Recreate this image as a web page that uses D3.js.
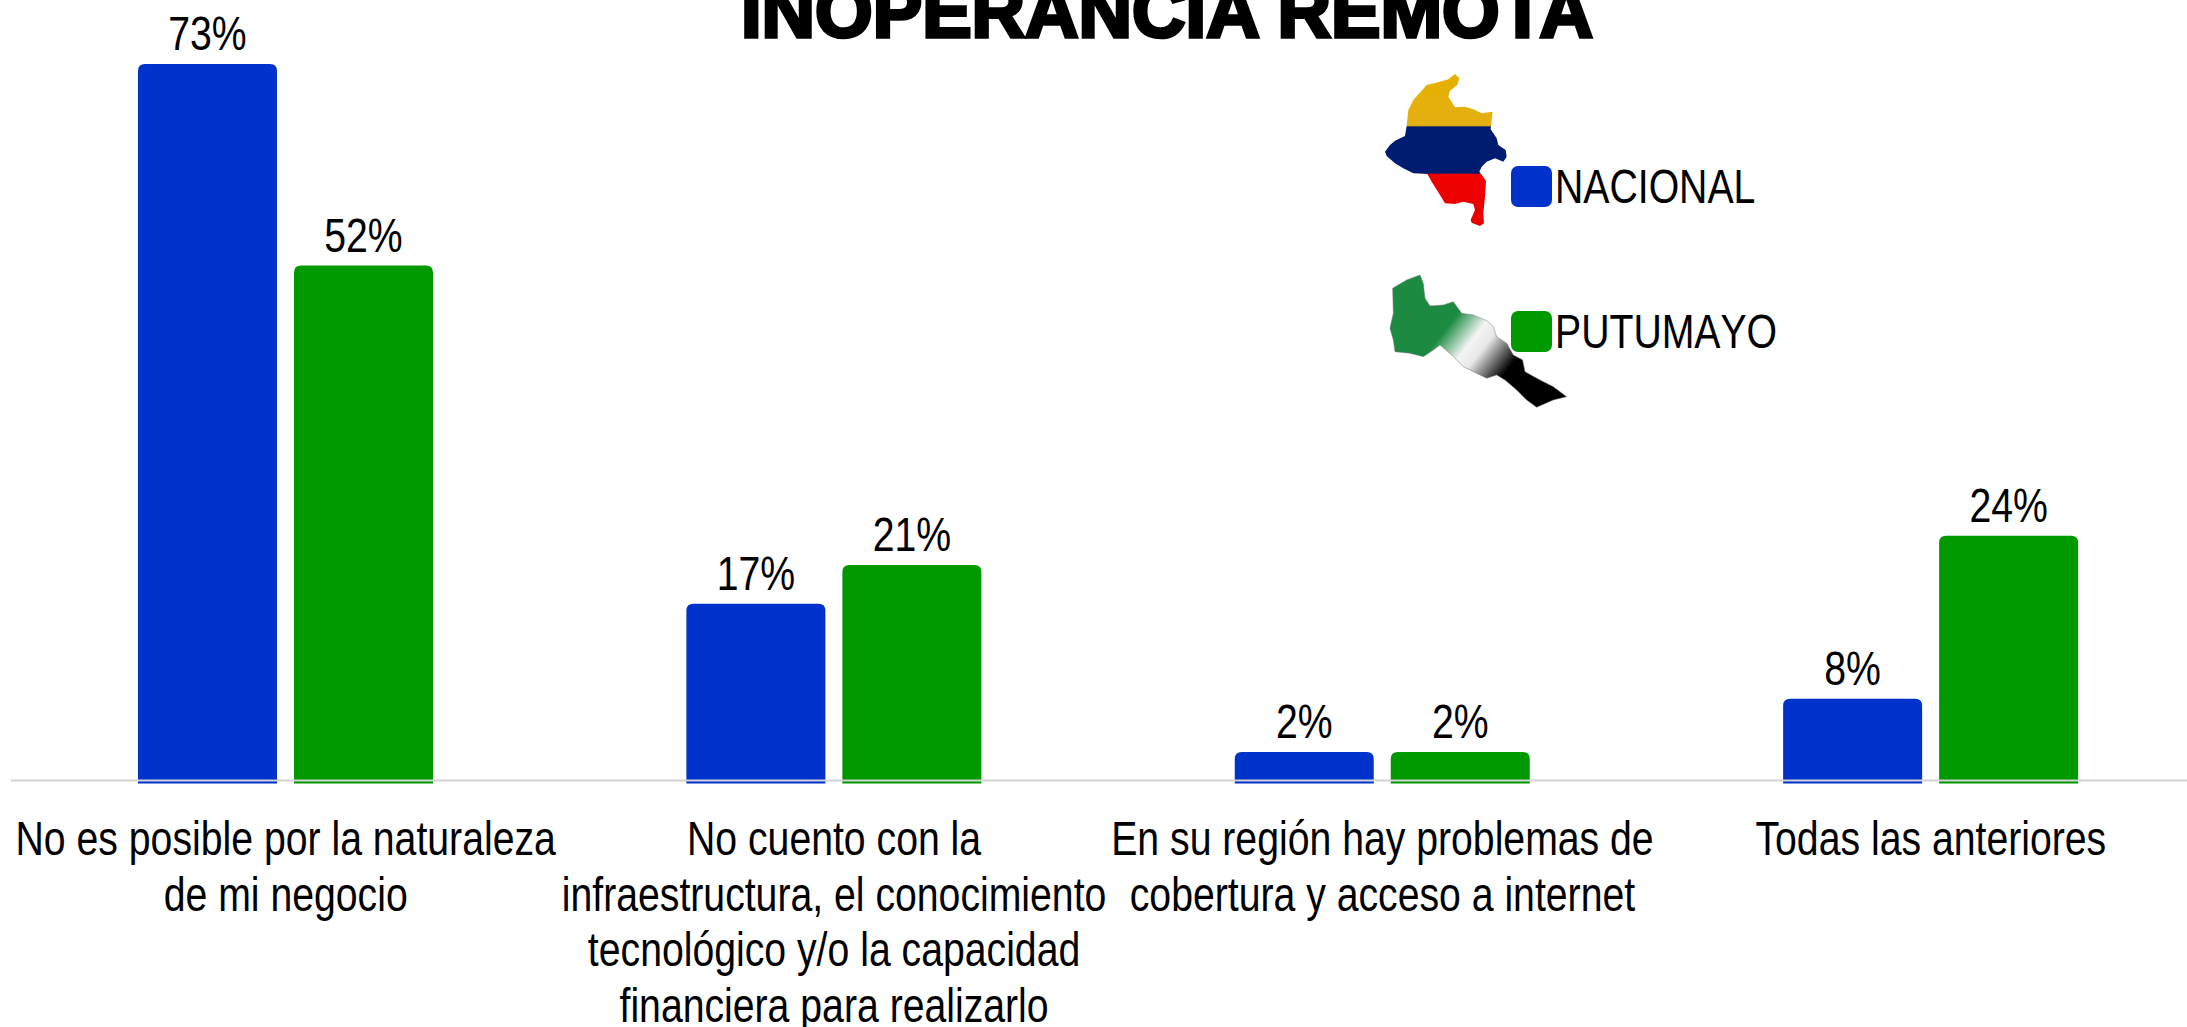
<!DOCTYPE html>
<html><head><meta charset="utf-8">
<script src="https://d3js.org/d3.v7.min.js"></script>
<style>html,body{margin:0;padding:0;background:#fff;overflow:hidden}svg{display:block}text{font-family:"Liberation Sans",Arial,sans-serif;fill:#000}</style>
</head><body><svg id="c" width="2187" height="1027"></svg>
<script>
const titleText = "INOPERANCIA REMOTA";
const categories = [
  ["No es posible por la naturaleza","de mi negocio"],
  ["No cuento con la","infraestructura, el conocimiento","tecnológico y/o la capacidad","financiera para realizarlo"],
  ["En su región hay problemas de","cobertura y acceso a internet"],
  ["Todas las anteriores"]
];
const seriesNames = ["NACIONAL","PUTUMAYO"];
const seriesColors = ["#0033cc","#009900"];
const nacional = [73, 17.3, 2, 7.5];
const putumayo = [52.2, 21.3, 2, 24.3];
const seriesValues = [nacional, putumayo];
const colombiaOutline = [[345,72],[358,85],[352,105],[330,122],[325,140],[345,172],[375,170],[400,178],[425,190],[458,185],[455,210],[452,238],[470,265],[475,285],[497,300],[500,320],[490,335],[465,325],[440,335],[425,350],[418,365],[438,392],[435,440],[430,490],[432,520],[420,528],[395,518],[392,510],[405,480],[400,462],[370,455],[345,462],[315,460],[300,435],[275,395],[262,372],[220,370],[190,355],[165,340],[140,318],[135,305],[150,285],[165,272],[195,258],[200,228],[205,180],[220,150],[260,105],[300,95],[325,88]];
const putumayoOutline = [[240,675],[250,700],[255,745],[270,768],[310,765],[340,755],[365,790],[400,795],[440,812],[460,830],[470,860],[500,880],[520,915],[548,930],[555,965],[600,990],[640,1010],[680,1040],[640,1050],[590,1072],[560,1050],[530,1020],[495,990],[470,975],[440,985],[400,965],[370,950],[335,915],[300,885],[280,900],[250,920],[210,910],[165,905],[160,870],[150,835],[160,790],[158,715],[200,690]];

const SX = 0.80, FS = 49;
const svg = d3.select("#c");
const defs = svg.append("defs");

const x0 = d3.scaleBand().domain(d3.range(categories.length)).range([11.5,2205]);
const x1 = d3.scaleBand().domain(d3.range(seriesNames.length)).range([126.5,421.5]).paddingInner(0.109);
const y = d3.scaleLinear().domain([-1,73]).range([781,64]);
const yBase = y(-1)+2.5;
const pct = d3.format(".0f");
const r = 7;

// title
svg.append("text").attr("x",1167).attr("y",36.5).attr("text-anchor","middle")
  .attr("font-size",74).attr("font-weight",700).attr("stroke","#000").attr("stroke-width",3.5)
  .attr("textLength",852).attr("lengthAdjust","spacingAndGlyphs").text(titleText);

// bars
const groups = svg.selectAll("g.grp").data(categories).join("g").attr("class","grp")
  .attr("transform",(d,i)=>`translate(${x0(i)},0)`);
groups.each(function(_,ci){
  const g = d3.select(this);
  seriesValues.forEach((vals,si)=>{
    const bx = x1(si), w = x1.bandwidth(), top = y(vals[ci]);
    g.append("path").attr("fill",seriesColors[si])
      .attr("d",`M${bx},${yBase}V${top+r}Q${bx},${top} ${bx+r},${top}H${bx+w-r}Q${bx+w},${top} ${bx+w},${top+r}V${yBase}Z`);
    g.append("text").attr("text-anchor","middle").attr("font-size",FS)
      .attr("transform",`translate(${bx+w/2},${top-14}) scale(${SX},1)`)
      .text(pct(vals[ci])+"%");
  });
});

// baseline
svg.append("line").attr("x1",11).attr("x2",2187).attr("y1",y(-1)-0.5).attr("y2",y(-1)-0.5)
  .attr("stroke","#d4d4d4").attr("stroke-width",2);

// category labels
groups.each(function(lines){
  d3.select(this).selectAll("text.cat").data(lines).join("text").attr("class","cat")
    .attr("text-anchor","middle").attr("font-size",FS)
    .attr("transform",(d,i)=>`translate(${x0.bandwidth()/2},${855+i*55.5}) scale(${SX},1)`)
    .text(d=>d);
});

// maps (decorative)
const line = d3.line().curve(d3.curveLinear);
const flag = defs.append("linearGradient").attr("id","flag").attr("gradientUnits","userSpaceOnUse")
  .attr("x1",0).attr("x2",0).attr("y1",70).attr("y2",530);
[[0,"#e8b000"],[0.34,"#e4b010"],[0.35,"#001a70"],[0.65,"#001a70"],[0.66,"#f00000"],[1,"#e80000"]]
  .forEach(s=>flag.append("stop").attr("offset",s[0]).attr("stop-color",s[1]));
const dep = defs.append("linearGradient").attr("id","dep").attr("gradientUnits","userSpaceOnUse")
  .attr("x1",300).attr("y1",790).attr("x2",520).attr("y2",960);
[[0,"#1a8a40"],[0.15,"#1a8a40"],[0.45,"#f4f4f4"],[0.6,"#e8e8e8"],[0.95,"#000"],[1,"#000"]]
  .forEach(s=>dep.append("stop").attr("offset",s[0]).attr("stop-color",s[1]));
defs.append("filter").attr("id","soft").append("feGaussianBlur").attr("stdDeviation",1.5);
const maps = svg.append("g").attr("transform","translate(1340,50) scale(0.3333)");
maps.append("path").attr("d",line(colombiaOutline)+"Z").attr("fill","url(#flag)").attr("filter","url(#soft)");
maps.append("path").attr("d",line(putumayoOutline)+"Z").attr("fill","url(#dep)").attr("stroke","#777").attr("stroke-width",1.5).attr("filter","url(#soft)");

// legend
const legendY = d3.scalePoint().domain(seriesNames).range([166,311]);
const lg = svg.selectAll("g.lg").data(seriesNames).join("g").attr("class","lg")
  .attr("transform",d=>`translate(1511,${legendY(d)})`);
lg.append("rect").attr("width",41).attr("height",41).attr("rx",7).attr("fill",(d,i)=>seriesColors[i]);
lg.append("text").attr("font-size",FS).style("font-kerning","none").attr("transform",`translate(44,37) scale(${SX},1)`).text(d=>d);
</script>
</body></html>
